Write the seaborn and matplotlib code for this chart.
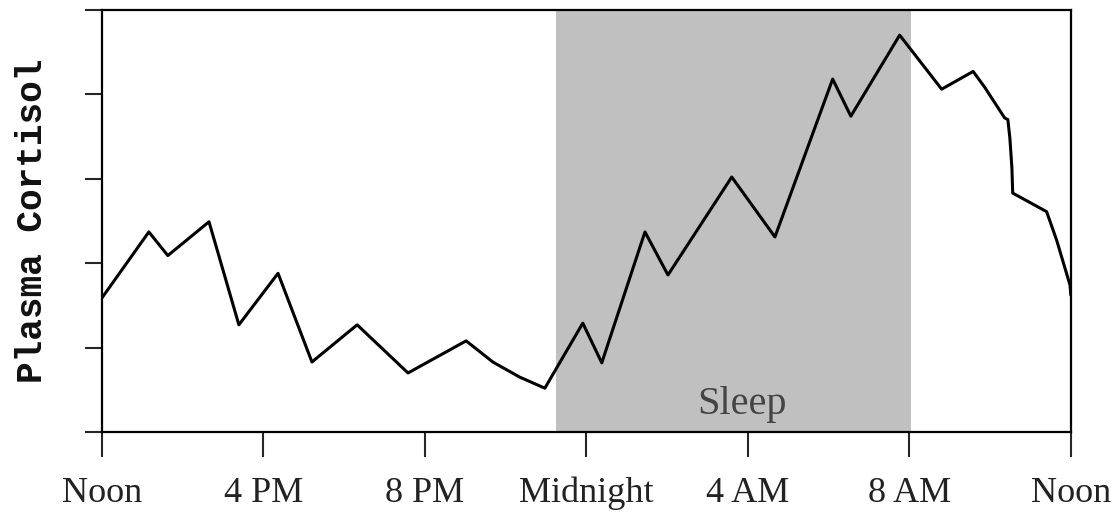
import numpy as np
import pandas as pd
import seaborn as sns
import matplotlib
matplotlib.use("Agg")
import matplotlib.pyplot as plt

# hours after noon, and plasma cortisol (arbitrary units)
hours = [0.00, 1.16, 1.63, 2.65, 3.39, 4.36, 5.20, 6.32, 7.58, 9.02,
         9.68, 10.35, 10.97, 11.91, 12.38, 13.45, 14.02, 15.60, 16.67, 18.10,
         18.55, 19.76, 20.80, 21.58, 21.87, 22.36, 22.44, 22.49, 22.54, 22.56,
         23.40, 23.65, 23.98, 24.00]
cortisol = [1.59, 2.37, 2.09, 2.49, 1.27, 1.88, 0.83, 1.27, 0.70, 1.08,
            0.83, 0.65, 0.52, 1.29, 0.82, 2.37, 1.86, 3.02, 2.31, 4.18,
            3.74, 4.70, 4.06, 4.27, 4.08, 3.72, 3.70, 3.48, 3.13, 2.83,
            2.61, 2.27, 1.74, 1.62]
tick_hours = [0, 4, 8, 12, 16, 20, 24]
tick_labels = ["Noon", "4 PM", "8 PM", "Midnight", "4 AM", "8 AM", "Noon"]
sleep_start, sleep_end = 11.24, 20.05

df = pd.DataFrame({"hour": hours, "cortisol": cortisol})

sns.set_style("ticks")
fig = plt.figure(figsize=(11.2, 5.15), dpi=100)
ax = fig.add_axes([0.0911, 0.161, 0.865, 0.820])

ax.axvspan(sleep_start, sleep_end, color="#c0c0c0", zorder=0, lw=0)
sns.lineplot(data=df, x="hour", y="cortisol", ax=ax, color="black",
             linewidth=2.2, estimator=None, sort=False, zorder=3)

ax.text(15.85, 0.33, "Sleep", ha="center", va="center", fontsize=29,
        family="Liberation Serif", color="#444444")

ax.set_xlim(0, 24)
ax.set_ylim(0, 5)
ax.set_xticks(tick_hours)
ax.set_xticklabels(tick_labels, family="Liberation Serif", fontsize=26,
                   color="#222222")
ax.set_yticks(range(6))
ax.set_yticklabels([])
ax.set_xlabel("")
ax.set_ylabel("Plasma Cortisol", family=["Liberation Mono", "DejaVu Sans Mono"],
              fontweight="bold", fontsize=26, labelpad=22, color="#111111")

for s in ax.spines.values():
    s.set_visible(True)
    s.set_linewidth(1.6)
    s.set_color("black")
ax.tick_params(axis="x", direction="out", length=18, width=1.5, pad=14)
ax.tick_params(axis="y", direction="out", length=12, width=1.5)

fig.savefig("out.png", dpi=100)
